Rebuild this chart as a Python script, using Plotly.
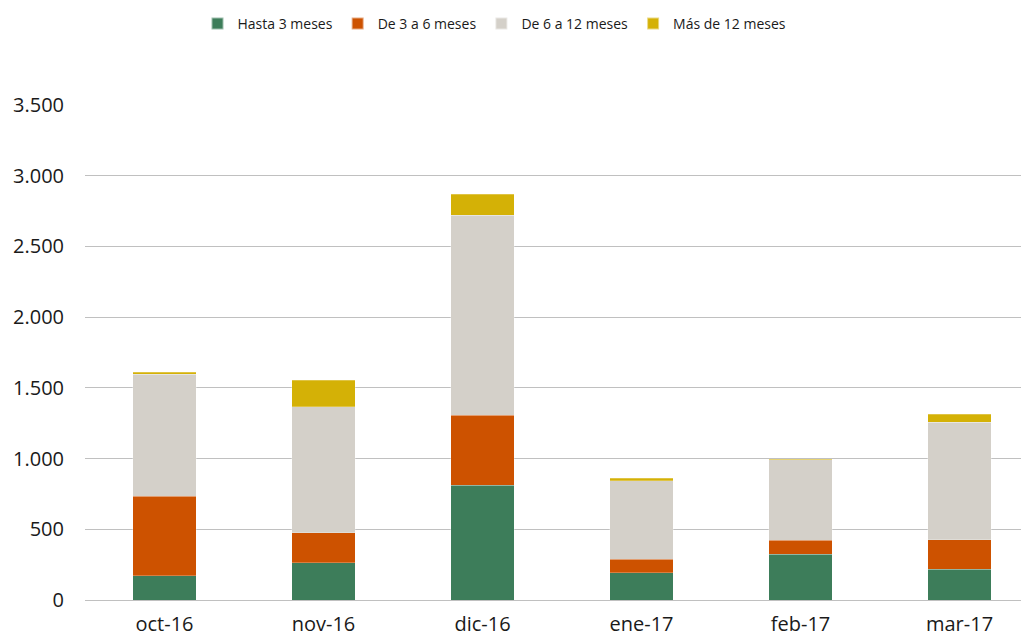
import plotly.graph_objects as go

categories = ["oct-16", "nov-16", "dic-16", "ene-17", "feb-17", "mar-17"]
hasta3 = [170, 262, 813, 191, 323, 217]
de3a6 = [565, 212, 493, 97, 99, 209]
de6a12 = [863, 891, 1416, 555, 568, 830]
mas12 = [14, 190, 146, 17, 4, 59]

series = [
    ("Hasta 3 meses", hasta3, "#3D7D5A"),
    ("De 3 a 6 meses", de3a6, "#CD5200"),
    ("De 6 a 12 meses", de6a12, "#D4D0C9"),
    ("Más de 12 meses", mas12, "#D4B106"),
]

fig = go.Figure()
for name, vals, col in series:
    fig.add_trace(go.Bar(
        x=categories, y=vals, name=name,
        marker=dict(color=col, line=dict(color="rgba(255,255,255,0.5)", width=0.5)),
        width=0.40,
    ))

font_family = "Open Sans, Liberation Sans, sans-serif"
fig.update_layout(
    barmode="stack",
    width=1021, height=631,
    margin=dict(l=77, r=0, t=97, b=39, autoexpand=False),
    paper_bgcolor="white", plot_bgcolor="white",
    separators=",.",
    font=dict(family=font_family, color="#1a1a1a"),
    legend=dict(orientation="h", xref="container", x=0.4765, xanchor="center",
                yref="container", y=1.0, yanchor="top",
                font=dict(size=14),
                traceorder="normal", itemwidth=30, itemsizing="constant"),
    xaxis=dict(range=[-0.5, 5.437], tickfont=dict(size=20), showgrid=False,
               showline=False, ticks="", ticklabelstandoff=10),
    yaxis=dict(range=[0, 3500], dtick=500, tickformat=",d", tickfont=dict(size=20),
               gridcolor="#c0c0c0", gridwidth=1, zeroline=True, zerolinecolor="#c0c0c0",
               zerolinewidth=1, ticks="", ticklabelstandoff=20),
)

fig.write_html("out.html")
